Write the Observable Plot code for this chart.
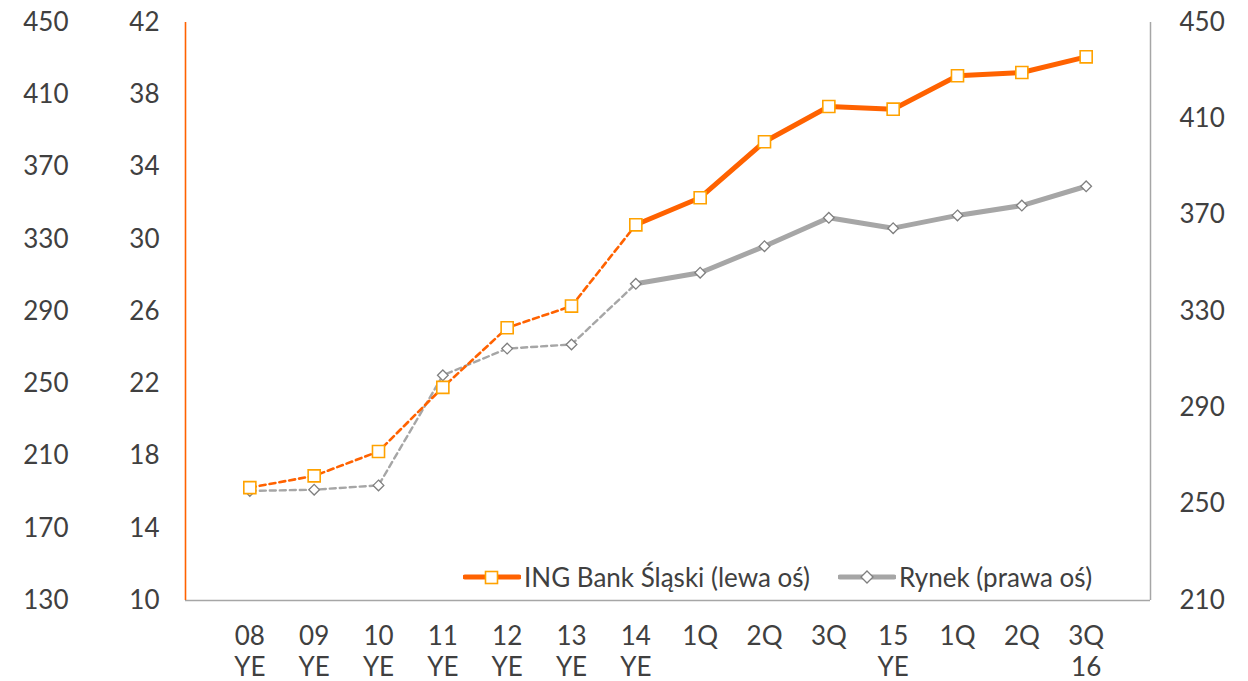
<!DOCTYPE html>
<html>
<head>
<meta charset="utf-8">
<script src="https://cdn.jsdelivr.net/npm/d3@7"></script>
<script src="https://cdn.jsdelivr.net/npm/@observablehq/plot@0.6"></script>
<style>
  html, body { margin: 0; padding: 0; background: #fff; }
  #wrap { position: relative; width: 1248px; height: 681px; font-family: Lato, "Noto Sans", sans-serif; color: #404040; }
  .leg { position: absolute; top: 562px; height: 30px; display: flex; align-items: center; font-size: 26px; white-space: nowrap; }
  .leg svg { display: block; margin-right: 3px; }
</style>
</head>
<body>
<div id="wrap"></div>
<script>
// Categories (x axis labels)
const labels = ["08\nYE","09\nYE","10\nYE","11\nYE","12\nYE","13\nYE","14\nYE","1Q","2Q","3Q","15\nYE","1Q","2Q","3Q\n16"];
// ING Bank Śląski (left axis)
const ing = [16.25, 16.9, 18.25, 21.8, 25.1, 26.3, 30.8, 32.3, 35.4, 37.35, 37.2, 39.05, 39.23, 40.1];
// Rynek (right axis)
const rynek = [255.5, 256, 257.8, 303.5, 314.6, 316.3, 341.5, 346.1, 357.1, 368.9, 364.6, 369.9, 374, 382];
// Tick labels
const farLeftTicks = [130, 170, 210, 250, 290, 330, 370, 410, 450];
const leftTicks = [10, 14, 18, 22, 26, 30, 34, 38, 42];
const rightTicks = [210, 250, 290, 330, 370, 410, 450];

const legendLabels = ["ING Bank Śląski (lewa oś)", "Rynek (prawa oś)"];

const ORANGE = "#FF6200";
const ORANGE_MARK = "#FFA200";
const GRAY = "#A6A6A6";
const GRAY_MARK = "#7F7F7F";
const TEXT = "#404040";
const FS = 26;

// map right-axis values onto the left-axis scale
const toLeft = v => 10 + (v - 210) * 32 / 240;
const fromLeft = v => Math.round(210 + (v - 10) * 240 / 32);

const data = labels.map((l, i) => ({i, label: l, ing: ing[i], rynek: rynek[i]}));
const LAST_DASHED = 6;

const chart = Plot.plot({
  width: 1248,
  height: 681,
  marginLeft: 185,
  marginRight: 98,
  marginTop: 22,
  marginBottom: 81,
  style: {fontFamily: "Lato, 'Noto Sans', sans-serif", fontSize: FS + "px", color: TEXT, background: "white", overflow: "visible"},
  x: {type: "linear", domain: [-1, labels.length], axis: null},
  y: {domain: [10, 42], axis: null},
  marks: [
    Plot.ruleY([10], {stroke: GRAY, strokeWidth: 1.5}),
    Plot.ruleX([-1], {stroke: ORANGE, strokeWidth: 1.6}),
    Plot.ruleX([labels.length], {stroke: GRAY, strokeWidth: 1.5}),
    // far-left axis (same grid as left axis)
    Plot.axisY(leftTicks, {anchor: "left", label: null, tickSize: 0, tickPadding: 117, fontSize: FS, fill: TEXT,
      tickFormat: d => farLeftTicks[leftTicks.indexOf(d)]}),
    // left axis
    Plot.axisY(leftTicks, {anchor: "left", label: null, tickSize: 0, tickPadding: 26, fontSize: FS, fill: TEXT, tickFormat: d => d}),
    // right axis
    Plot.axisY(rightTicks.map(toLeft), {anchor: "right", label: null, tickSize: 0, tickPadding: 29, fontSize: FS, fill: TEXT,
      tickFormat: d => fromLeft(d)}),
    // x labels
    Plot.text(data, {x: "i", y: () => 10, text: "label", dy: 22, lineAnchor: "top", lineHeight: 1.2,
      fontSize: FS, fill: TEXT, textAnchor: "middle"}),
    // Rynek
    Plot.lineY(data.filter(d => d.i <= LAST_DASHED), {x: "i", y: d => toLeft(d.rynek), stroke: GRAY, strokeWidth: 2.4, strokeDasharray: "6,4"}),
    Plot.lineY(data.filter(d => d.i >= LAST_DASHED), {x: "i", y: d => toLeft(d.rynek), stroke: GRAY, strokeWidth: 5}),
    // ING
    Plot.lineY(data.filter(d => d.i <= LAST_DASHED), {x: "i", y: "ing", stroke: ORANGE, strokeWidth: 2.6, strokeDasharray: "6,4"}),
    Plot.lineY(data.filter(d => d.i >= LAST_DASHED), {x: "i", y: "ing", stroke: ORANGE, strokeWidth: 5}),
    Plot.dot(data, {x: "i", y: d => toLeft(d.rynek), symbol: "diamond2", r: 4.8, fill: "white", stroke: GRAY_MARK, strokeWidth: 1.3}),
    Plot.dot(data, {x: "i", y: "ing", symbol: "square", r: 6.8, fill: "white", stroke: ORANGE_MARK, strokeWidth: 1.6})
  ]
});

const wrap = document.getElementById("wrap");
wrap.appendChild(chart);

function legendItem(left, label, lineColor, markSvg) {
  const d = document.createElement("div");
  d.className = "leg";
  d.style.left = left + "px";
  d.innerHTML = `<svg width="58" height="20" viewBox="0 0 58 20"><line x1="2" y1="10" x2="56" y2="10" stroke="${lineColor}" stroke-width="5" stroke-linecap="round"/>${markSvg}</svg><span>${label}</span>`;
  wrap.appendChild(d);
}
legendItem(463, legendLabels[0], ORANGE, `<rect x="22.5" y="4.5" width="12" height="12" fill="white" stroke="${ORANGE_MARK}" stroke-width="1.6"/>`);
legendItem(838, legendLabels[1], GRAY, `<path d="M29,4 L35,10 L29,16 L23,10 Z" fill="white" stroke="${GRAY_MARK}" stroke-width="1.3"/>`);
</script>
</body>
</html>
